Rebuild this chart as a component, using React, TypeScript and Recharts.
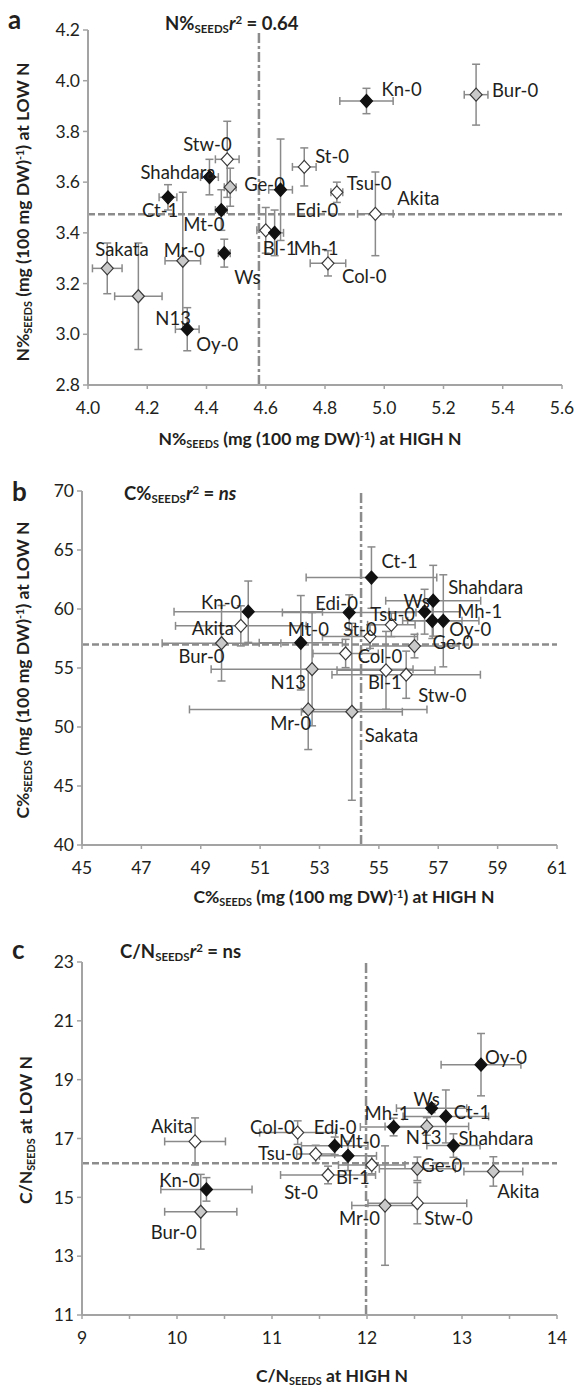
import React from 'react';
import { ScatterChart, Scatter, XAxis, YAxis, ErrorBar, ReferenceLine } from 'recharts';

// ---- panel a : N% in seeds ----
const NAMES_A = ['Kn-0', 'Bur-0', 'Stw-0', 'Shahdara', 'Ge-0', 'Ct-1', 'Mt-0', 'Edi-0', 'St-0', 'Tsu-0', 'Akita', 'Bl-1', 'Mh-1', 'Col-0', 'Sakata', 'Mr-0', 'Ws', 'N13', 'Oy-0'];
const HIGH_A = [4.94, 5.31, 4.47, 4.41, 4.48, 4.27, 4.45, 4.65, 4.73, 4.84, 4.97, 4.6, 4.63, 4.81, 4.065, 4.32, 4.46, 4.17, 4.335];
const LOW_A = [3.92, 3.945, 3.69, 3.62, 3.58, 3.54, 3.49, 3.57, 3.66, 3.56, 3.475, 3.41, 3.4, 3.28, 3.26, 3.29, 3.32, 3.15, 3.02];
const HIGH_ERR_A = [0.09, 0.04, 0.04, 0.03, 0.02, 0.03, 0.02, 0.04, 0.04, 0.02, 0.06, 0.03, 0.03, 0.06, 0.05, 0.06, 0.02, 0.08, 0.04];
const LOW_ERR_A = [0.05, 0.12, 0.15, 0.07, 0.075, 0.05, 0.08, 0.2, 0.075, 0.04, 0.165, 0.09, 0.09, 0.05, 0.1, 0.27, 0.055, 0.21, 0.085];
const GROUP_A = ['k', 'g', 'w', 'k', 'g', 'k', 'k', 'k', 'w', 'w', 'w', 'w', 'k', 'w', 'g', 'g', 'k', 'g', 'k'];
const X_TICKS_A = [4.0, 4.2, 4.4, 4.6, 4.8, 5.0, 5.2, 5.4, 5.6];
const Y_TICKS_A = [2.8, 3.0, 3.2, 3.4, 3.6, 3.8, 4.0, 4.2];
const MEDIAN_HIGH_A = 4.577;
const MEDIAN_LOW_A = 3.473;

// ---- panel b : C% in seeds ----
const NAMES_B = ['Ct-1', 'Kn-0', 'Akita', 'Bur-0', 'Mt-0', 'N13', 'Edi-0', 'St-0', 'Col-0', 'Tsu-0', 'Ws', 'Shahdara', 'Mh-1', 'Oy-0', 'Ge-0', 'Bl-1', 'Stw-0', 'Mr-0', 'Sakata'];
const HIGH_B = [54.75, 50.6, 50.35, 49.7, 52.37, 52.75, 54.0, 54.7, 53.88, 55.42, 56.54, 56.83, 56.8, 57.17, 56.2, 55.24, 55.92, 52.62, 54.09];
const LOW_B = [62.66, 59.77, 58.57, 57.1, 57.14, 54.9, 59.7, 57.66, 56.23, 58.66, 59.77, 60.7, 59.0, 59.0, 56.86, 54.8, 54.43, 51.49, 51.29];
const HIGH_ERR_B = [2.2, 2.5, 2.2, 2.0, 1.4, 3.4, 2.25, 1.6, 1.1, 0.8, 1.2, 1.6, 1.0, 1.2, 1.5, 1.65, 2.5, 4.0, 1.7];
const LOW_ERR_B = [2.6, 2.6, 1.7, 3.2, 4.0, 4.8, 1.5, 1.0, 1.2, 1.0, 1.9, 3.0, 1.5, 3.9, 1.0, 3.3, 2.0, 3.4, 7.5];
const GROUP_B = ['k', 'k', 'w', 'g', 'k', 'g', 'k', 'w', 'w', 'w', 'k', 'k', 'k', 'k', 'g', 'w', 'w', 'g', 'g'];
const X_TICKS_B = [45, 47, 49, 51, 53, 55, 57, 59, 61];
const Y_TICKS_B = [40, 45, 50, 55, 60, 65, 70];
const MEDIAN_HIGH_B = 54.4;
const MEDIAN_LOW_B = 57.0;

// ---- panel c : C/N ratio in seeds ----
const NAMES_C = ['Oy-0', 'Ws', 'Ct-1', 'Mh-1', 'N13', 'Shahdara', 'Akita', 'Col-0', 'Edi-0', 'Mt-0', 'Tsu-0', 'St-0', 'Bl-1', 'Kn-0', 'Bur-0', 'Ge-0', 'Akita', 'Mr-0', 'Stw-0'];
const HIGH_C = [13.2, 12.68, 12.83, 12.28, 12.63, 12.91, 10.19, 11.27, 11.66, 11.8, 11.46, 11.59, 12.05, 10.31, 10.25, 12.53, 13.33, 12.19, 12.53];
const LOW_C = [19.51, 18.03, 17.75, 17.39, 17.41, 16.76, 16.9, 17.2, 16.75, 16.41, 16.47, 15.76, 16.1, 15.27, 14.51, 15.97, 15.88, 14.72, 14.8];
const HIGH_ERR_C = [0.42, 0.37, 0.45, 0.35, 0.44, 0.28, 0.32, 0.4, 0.35, 0.3, 0.2, 0.5, 0.35, 0.48, 0.38, 0.4, 0.31, 0.35, 0.52];
const LOW_ERR_C = [1.06, 0.15, 0.9, 0.3, 0.3, 0.4, 0.8, 0.4, 0.3, 0.5, 0.3, 0.3, 0.3, 0.4, 1.27, 0.4, 0.5, 2.03, 0.7];
const GROUP_C = ['k', 'k', 'k', 'k', 'g', 'k', 'w', 'w', 'k', 'k', 'w', 'w', 'w', 'k', 'g', 'g', 'g', 'g', 'w'];
const X_TICKS_C = [9, 9.5, 10, 10.5, 11, 11.5, 12, 12.5, 13, 13.5, 14];
const Y_TICKS_C = [11, 13, 15, 17, 19, 21, 23];
const MEDIAN_HIGH_C = 11.99;
const MEDIAN_LOW_C = 16.16;

// where each accession name sits relative to its marker: [dx, dy, anchor]
type Pos = [number, number, 'start' | 'end'];
const LABEL_POS_A: Pos[] = [
  [15, -12, 'start'], [16, -5, 'start'], [-44, -15, 'start'], [-69, -5, 'start'], [14, -3, 'start'],
  [-26, 13, 'start'], [-38, 14, 'start'], [15, 20, 'start'], [11, -11, 'start'], [10, -9, 'start'],
  [22, -16, 'start'], [-3, 18, 'start'], [19, 15, 'start'], [14, 13, 'start'], [-12, -19, 'start'],
  [-19, -11, 'start'], [10, 24, 'start'], [17, 22, 'start'], [9, 15, 'start'],
];
const LABEL_POS_B: Pos[] = [
  [10, -17, 'start'], [-7, -10, 'end'], [-7, 2, 'end'], [3, 13, 'end'], [-13, -14, 'start'],
  [-6, 13, 'end'], [-34, -10, 'start'], [-27, -8, 'start'], [12, 3, 'start'], [-21, -11, 'start'],
  [-21, -11, 'start'], [15, -14, 'start'], [25, -10, 'start'], [6, 8, 'start'], [18, -4, 'start'],
  [-18, 12, 'start'], [12, 20, 'start'], [3, 14, 'end'], [13, 23, 'start'],
];
const LABEL_POS_C: Pos[] = [
  [4, -8, 'start'], [-18, -9, 'start'], [8, -4, 'start'], [-29, -14, 'start'], [-21, 11, 'start'],
  [5, -8, 'start'], [-2, -15, 'end'], [-3, -6, 'end'], [-21, -19, 'start'], [-9, -15, 'start'],
  [-13, -1, 'end'], [-10, 17, 'end'], [-2, 12, 'end'], [-7, -9, 'end'], [-4, 20, 'end'],
  [4, -4, 'start'], [4, 20, 'start'], [-5, 12, 'end'], [7, 15, 'start'],
];

const FONT = "Lato, 'Open Sans', sans-serif";
const INK = '#231f20';
const AXIS = '#a3a3a3';
const ERR = '#8a8a8a';
const MEDIAN = '#8c8c8c';
const FILLS: Record<string, string> = { k: '#111111', w: '#ffffff', g: '#c9c9c9' };
const TICK_SIZE = 17.5;
const NAME_SIZE = 18.5;
const TITLE_SIZE = 17.5;

const rows = (names: string[], hi: number[], lo: number[], hiErr: number[], loErr: number[], grp: string[]) =>
  names.map((name, i) => ({ i, name, x: hi[i], y: lo[i], ex: hiErr[i], ey: loErr[i], grp: grp[i] }));

const makeShape = (pos: Pos[]) => (props: any) => {
  const { cx, cy, payload } = props;
  const [dx, dy, anchor] = pos[payload.i];
  const r = 6.5;
  return (
    <g>
      <path
        d={`M${cx},${cy - r}L${cx + r - 0.5},${cy}L${cx},${cy + r}L${cx - r + 0.5},${cy}Z`}
        fill={FILLS[payload.grp]}
        stroke={payload.grp === 'k' ? '#111' : '#3a3a3a'}
        strokeWidth={1.2}
      />
      <text x={cx + dx} y={cy + dy} textAnchor={anchor} dominantBaseline="central"
        fontSize={NAME_SIZE} fontFamily={FONT} fill={INK}>
        {payload.name}
      </text>
    </g>
  );
};

const Sub = ({ children }: { children: React.ReactNode }) => (
  <span style={{ fontSize: '0.62em', verticalAlign: '-0.28em' }}>{children}</span>
);
const Sup = ({ children }: { children: React.ReactNode }) => (
  <span style={{ fontSize: '0.62em', verticalAlign: '0.5em' }}>{children}</span>
);

const abs = (left: number, top: number, extra: React.CSSProperties = {}): React.CSSProperties => ({
  position: 'absolute', left, top, whiteSpace: 'nowrap', lineHeight: 1, color: INK,
  fontFamily: FONT, fontWeight: 700, fontSize: TITLE_SIZE, ...extra,
});

interface PanelProps {
  top: number;
  height: number;
  margin: { top: number; right: number; bottom: number; left: number };
  yWidth: number;
  data: ReturnType<typeof rows>;
  pos: Pos[];
  xDomain: [number, number];
  yDomain: [number, number];
  xTicks: number[];
  yTicks: number[];
  fmtX: (v: number) => string;
  fmtY: (v: number) => string;
  medX: number;
  medY: number;
}

const Panel = (p: PanelProps) => (
  <div style={{ position: 'absolute', left: 0, top: p.top }}>
    <ScatterChart width={580} height={p.height} margin={p.margin}>
      <XAxis type="number" dataKey="x" domain={p.xDomain} ticks={p.xTicks} tickFormatter={p.fmtX}
        allowDataOverflow height={30} interval={0}
        axisLine={{ stroke: AXIS, strokeWidth: 2 }} tickLine={{ stroke: AXIS, strokeWidth: 1.5 }}
        tickSize={4} tickMargin={13} tick={{ fill: INK, fontSize: TICK_SIZE, fontFamily: FONT }} />
      <YAxis type="number" dataKey="y" domain={p.yDomain} ticks={p.yTicks} tickFormatter={p.fmtY}
        allowDataOverflow width={p.yWidth} interval={0}
        axisLine={{ stroke: AXIS, strokeWidth: 2 }} tickLine={{ stroke: AXIS, strokeWidth: 1.5 }}
        tickSize={5} tickMargin={3} tick={{ fill: INK, fontSize: TICK_SIZE, fontFamily: FONT }} />
      <ReferenceLine y={p.medY} stroke={MEDIAN} strokeWidth={2.5} strokeDasharray="7 3" />
      <ReferenceLine x={p.medX} stroke={MEDIAN} strokeWidth={2.5} strokeDasharray="10 3 3 3" />
      <Scatter data={p.data} shape={makeShape(p.pos)} isAnimationActive={false}>
        <ErrorBar dataKey="ex" direction="x" width={4} stroke={ERR} strokeWidth={1.5} isAnimationActive={false} />
        <ErrorBar dataKey="ey" direction="y" width={4} stroke={ERR} strokeWidth={1.5} isAnimationActive={false} />
      </Scatter>
    </ScatterChart>
  </div>
);

const oneDec = (v: number) => v.toFixed(1);
const plain = (v: number) => String(v);
const halfTicks = (v: number) => (Number.isInteger(v) ? String(v) : '');

export default function App() {
  const dataA = rows(NAMES_A, HIGH_A, LOW_A, HIGH_ERR_A, LOW_ERR_A, GROUP_A);
  const dataB = rows(NAMES_B, HIGH_B, LOW_B, HIGH_ERR_B, LOW_ERR_B, GROUP_B);
  const dataC = rows(NAMES_C, HIGH_C, LOW_C, HIGH_ERR_C, LOW_ERR_C, GROUP_C);

  const rot = { transform: 'translate(-50%, -50%) rotate(-90deg)' };
  const mid = { transform: 'translate(-50%, -50%)' };
  const head = { fontSize: 18.5 };

  return (
    <div style={{ position: 'absolute', left: 0, top: 0, width: 580, height: 1388, background: '#fff', fontFamily: FONT }}>
      {/* a */}
      <Panel top={0} height={460} margin={{ top: 30, right: 18, bottom: 45, left: 28 }} yWidth={60}
        data={dataA} pos={LABEL_POS_A} xDomain={[4, 5.6]} yDomain={[2.8, 4.2]}
        xTicks={X_TICKS_A} yTicks={Y_TICKS_A} fmtX={oneDec} fmtY={oneDec}
        medX={MEDIAN_HIGH_A} medY={MEDIAN_LOW_A} />
      <div style={abs(8, 6, { fontSize: 26 })}>a</div>
      <div style={abs(165, 14, head)}>N%<Sub>SEEDS</Sub><i>r</i><Sup>2</Sup> = 0.64</div>
      <div style={abs(24, 212, rot)}>N%<Sub>SEEDS</Sub> (mg (100 mg DW)<Sup>-1</Sup>) at LOW N</div>
      <div style={abs(310, 440, mid)}>N%<Sub>SEEDS</Sub> (mg (100 mg DW)<Sup>-1</Sup>) at HIGH N</div>

      {/* b */}
      <Panel top={460} height={460} margin={{ top: 31, right: 23, bottom: 45, left: 32 }} yWidth={50}
        data={dataB} pos={LABEL_POS_B} xDomain={[45, 61]} yDomain={[40, 70]}
        xTicks={X_TICKS_B} yTicks={Y_TICKS_B} fmtX={plain} fmtY={plain}
        medX={MEDIAN_HIGH_B} medY={MEDIAN_LOW_B} />
      <div style={abs(12, 478, { fontSize: 26 })}>b</div>
      <div style={abs(124, 484, head)}>C%<Sub>SEEDS</Sub><i>r</i><Sup>2</Sup> = <i>ns</i></div>
      <div style={abs(24, 670, rot)}>C%<Sub>SEEDS</Sub> (mg (100 mg DW)<Sup>-1</Sup>) at LOW N</div>
      <div style={abs(344, 898, mid)}>C%<Sub>SEEDS</Sub> (mg (100 mg DW)<Sup>-1</Sup>) at HIGH N</div>

      {/* c */}
      <Panel top={920} height={468} margin={{ top: 42, right: 23, bottom: 43, left: 32 }} yWidth={50}
        data={dataC} pos={LABEL_POS_C} xDomain={[9, 14]} yDomain={[11, 23]}
        xTicks={X_TICKS_C} yTicks={Y_TICKS_C} fmtX={halfTicks} fmtY={plain}
        medX={MEDIAN_HIGH_C} medY={MEDIAN_LOW_C} />
      <div style={abs(12, 936, { fontSize: 26 })}>c</div>
      <div style={abs(120, 942, head)}>C/N<Sub>SEEDS</Sub><i>r</i><Sup>2</Sup> = ns</div>
      <div style={abs(27, 1130, rot)}>C/N<Sub>SEEDS</Sub> at LOW N</div>
      <div style={abs(332, 1377, mid)}>C/N<Sub>SEEDS</Sub> at HIGH N</div>
    </div>
  );
}
